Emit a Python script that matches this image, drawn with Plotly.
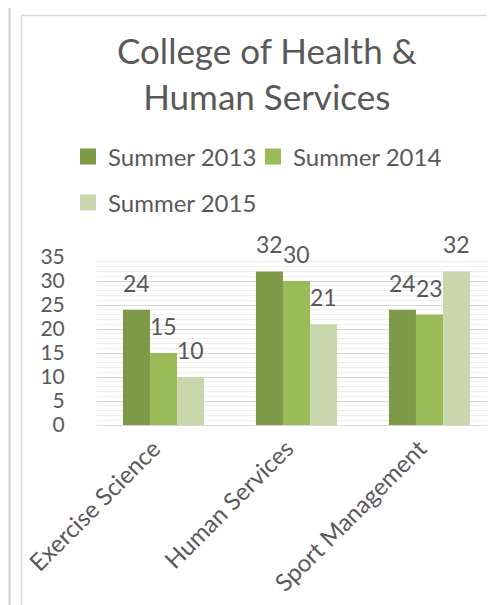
import plotly.graph_objects as go

categories = ["Exercise Science", "Human Services", "Sport Management"]
series_names = ["Summer 2013", "Summer 2014", "Summer 2015"]
summer_2013 = [24, 32, 24]
summer_2014 = [15, 30, 23]
summer_2015 = [10, 21, 32]
y_ticks = [0, 5, 10, 15, 20, 25, 30, 35]

values = [summer_2013, summer_2014, summer_2015]
colors = ["#7E9A48", "#9BBB59", "#C8D8AC"]
txt = "#595959"
FONT = "Lato"
bargap = 0.39

W, H = 495, 605
L, R, T, B = 89, 7, 249, 188
pw = W - L - R
ph = H - T - B

def px_x(p):
    return (p - L) / pw

def px_y(p):
    return (H - B - p) / ph

fig = go.Figure()
for name, vals, col in zip(series_names, values, colors):
    fig.add_trace(go.Bar(x=categories, y=vals, name=name, marker_color=col,
                         marker_line_width=0, showlegend=False))

# legend entries (one legend per entry to place them like the original)
legend_ids = ["legend", "legend2", "legend3"]
for name, col, lid in zip(series_names, colors, legend_ids):
    fig.add_trace(go.Scatter(x=[None], y=[None], mode="markers", name=name,
                             marker=dict(symbol="square", size=16, color=col),
                             legend=lid, showlegend=True))

# data labels
n = len(values)
w = (1 - bargap) / n
annotations = []
for j, vals in enumerate(values):
    for i, v in enumerate(vals):
        annotations.append(dict(x=i + (j - (n - 1) / 2) * w, y=v, xref="x", yref="y",
                                text=str(v), showarrow=False, yanchor="bottom",
                                yshift=11, font=dict(family=FONT, size=23, color=txt)))

# title as a two-line annotation
annotations.append(dict(text="College of Health &<br>Human Services", xref="paper", yref="paper",
                        x=px_x(259), y=px_y(19), xanchor="center", yanchor="top",
                        showarrow=False, align="center",
                        font=dict(family=FONT, size=35, color=txt)))

leg_common = dict(orientation="h", bgcolor="rgba(0,0,0,0)", borderwidth=0,
                  font=dict(family=FONT, size=24, color=txt), xanchor="left",
                  yanchor="middle", itemclick=False)

fig.update_layout(
    width=W, height=H,
    margin=dict(l=L, r=R, t=T, b=B),
    paper_bgcolor="white", plot_bgcolor="white",
    barmode="group", bargap=bargap, bargroupgap=0,
    font=dict(family=FONT, color=txt),
    legend=dict(x=px_x(60), y=px_y(149), **leg_common),
    legend2=dict(x=px_x(245), y=px_y(149), **leg_common),
    legend3=dict(x=px_x(60), y=px_y(195), **leg_common),
    annotations=annotations,
    xaxis=dict(tickangle=-45, tickfont=dict(family=FONT, size=24, color=txt),
               showline=False, showgrid=False, ticks="",
               ticklabelshift=-10, ticklabelstandoff=4),
    yaxis=dict(range=[0, 35], tickvals=y_ticks, tickfont=dict(family=FONT, size=21, color=txt),
               showgrid=True, gridcolor="#D9D9D9", gridwidth=1,
               zeroline=True, zerolinecolor="#D9D9D9", zerolinewidth=1,
               minor=dict(dtick=1, showgrid=True, gridcolor="#F0F0F0", gridwidth=1),
               ticks="outside", ticklen=27, tickcolor="rgba(0,0,0,0)", showline=False),
    shapes=[
        dict(type="rect", xref="paper", yref="paper", x0=px_x(13.5), x1=px_x(488.5),
             y0=px_y(620), y1=px_y(7.5), line=dict(color="#D9D9D9", width=1.5),
             fillcolor="rgba(0,0,0,0)", layer="below"),
        dict(type="line", xref="paper", yref="paper", x0=px_x(1.5), x1=px_x(1.5),
             y0=px_y(620), y1=px_y(-10), line=dict(color="#D9D9D9", width=2.5)),
    ],
)

fig.write_html("out.html")
